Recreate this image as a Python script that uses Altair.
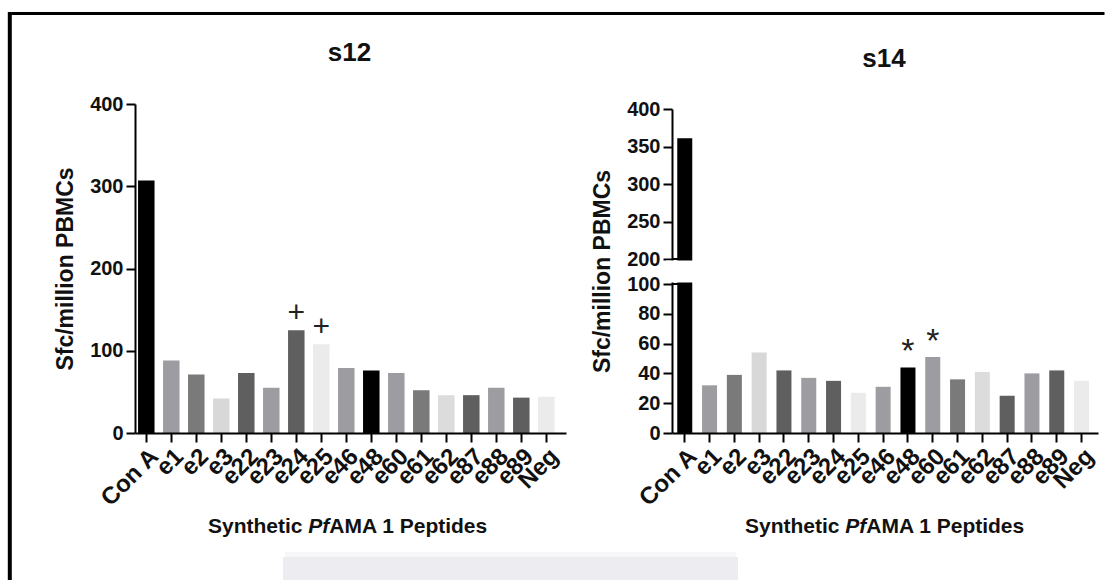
import altair as alt
import pandas as pd

# ---------------- data ----------------
categories = ["Con A", "e1", "e2", "e3", "e22", "e23", "e24", "e25", "e46",
              "e48", "e60", "e61", "e62", "e87", "e88", "e89", "Neg"]
s12_values = [307, 88, 71, 42, 73, 55, 125, 108, 79, 76, 73, 52, 46, 46, 55, 43, 44]
s14_values = [361, 32, 39, 54, 42, 37, 35, 27, 31, 44, 51, 36, 41, 25, 40, 42, 35]
bar_colors = ["#000000", "#9d9da1", "#7a7a7a", "#d8d8d8", "#5f5f5f", "#9d9da1",
              "#5f5f5f", "#ebebeb", "#9d9da1", "#000000", "#9d9da1", "#7a7a7a",
              "#dcdcdc", "#5f5f5f", "#9d9da1", "#5f5f5f", "#ebebeb"]
s12_marked = ["e24", "e25"]
s12_symbol = "+"
s14_marked = ["e48", "e60"]
s14_symbol = "*"
panel_titles = ["s12", "s14"]
y_title = "Sfc/million PBMCs"
x_title_parts = ["Synthetic", "Pf", "AMA 1 Peptides"]
s12_ticks = [0, 100, 200, 300, 400]
s14_ticks = [0, 20, 40, 60, 80, 100, 200, 250, 300, 350, 400]
s14_domain = [0, 100, 200, 400]

FONT = "Liberation Sans, Arial, sans-serif"
INK = "#111111"
one = pd.DataFrame({"k": [0]})


def x_enc(p_in, p_out, align):
    return alt.X(
        "cat:N", sort=categories,
        scale=alt.Scale(paddingInner=p_in, paddingOuter=p_out, align=align),
        axis=alt.Axis(title=None, labelAngle=-45, labelFont=FONT, labelFontSize=24,
                      labelFontWeight="bold", labelColor=INK, labelPadding=2,
                      tickSize=9, tickWidth=2, tickColor="#000", domainColor="#000",
                      domainWidth=2, grid=False, zindex=1))


def y_enc(ticks, scale):
    return alt.Y(
        "val:Q", scale=scale,
        axis=alt.Axis(values=ticks, tickCount=40, title=y_title, titleFont=FONT,
                      titleFontSize=23, titleFontWeight="bold", titleColor=INK,
                      titlePadding=12, labelFont=FONT, labelFontSize=20,
                      labelFontWeight="bold", labelColor=INK, labelPadding=3,
                      labelFlush=False, labelOverlap=False, tickSize=9, tickWidth=2,
                      tickColor="#000", domainColor="#000", domainWidth=2,
                      grid=False, zindex=0))


def panel(values, title, marked, symbol, sym_size, sym_dy, ticks, yscale, width, xpad,
          title_y):
    df = pd.DataFrame({"cat": categories, "val": values})
    x = x_enc(*xpad)
    y = y_enc(ticks, yscale)
    color = alt.Color("cat:N", scale=alt.Scale(domain=categories, range=bar_colors),
                      legend=None)
    bars = alt.Chart(df).mark_bar().encode(x=x, y=y, color=color)

    mk = df[df["cat"].isin(marked)].assign(sym=symbol)
    marks = alt.Chart(mk).mark_text(font=FONT, fontSize=sym_size, color="#222",
                                    baseline="alphabetic", dy=sym_dy).encode(
        x=alt.X("cat:N", sort=categories), y=alt.Y("val:Q"), text="sym:N")

    ttl = alt.Chart(pd.DataFrame({"t": [title]})).mark_text(
        font=FONT, fontSize=26, fontWeight="bold", color=INK, align="center",
        baseline="alphabetic").encode(text="t:N", x=alt.value(width / 2 - 1),
                                      y=alt.value(title_y))

    p = 173.3
    xt1 = alt.Chart(pd.DataFrame({"t": [x_title_parts[0]]})).mark_text(
        font=FONT, fontSize=21, fontWeight="bold", color=INK, align="right",
        baseline="alphabetic").encode(text="t:N", x=alt.value(p - 5.8), y=alt.value(429))
    xt2 = alt.Chart(pd.DataFrame({"t": [x_title_parts[1]]})).mark_text(
        font=FONT, fontSize=21, fontWeight="bold", fontStyle="italic", color=INK,
        align="left", baseline="alphabetic").encode(text="t:N", x=alt.value(p),
                                                    y=alt.value(429))
    xt3 = alt.Chart(pd.DataFrame({"t": [x_title_parts[2]]})).mark_text(
        font=FONT, fontSize=21, fontWeight="bold", color=INK, align="left",
        baseline="alphabetic").encode(text="t:N", x=alt.value(p + 21), y=alt.value(429))
    return [bars, marks, ttl, xt1, xt2, xt3]


# ---------------- left panel (s12) ----------------
left_layers = panel(s12_values, panel_titles[0], s12_marked, s12_symbol, 30, -8,
                    s12_ticks, alt.Scale(domain=[0, 400], zero=False, nice=False),
                    431, (0.34, 0.29, 0.21), -43)

# page decorations (frame of the original figure and faint box at bottom)
gray_box = alt.Chart(one).mark_rect(color="#ececf1").encode(
    x=alt.value(148), x2=alt.value(603), y=alt.value(453), y2=alt.value(478))
gray_band = alt.Chart(one).mark_rect(color="#f7f7f9").encode(
    x=alt.value(150), x2=alt.value(601), y=alt.value(448), y2=alt.value(453))
top_border = alt.Chart(one).mark_rule(color="#000", strokeWidth=3).encode(
    x=alt.value(-125.2), x2=alt.value(969.5), y=alt.value(-90.5))
left_border = alt.Chart(one).mark_rule(color="#000", strokeWidth=4).encode(
    x=alt.value(-125.2), y=alt.value(-92), y2=alt.value(476))

left = alt.layer(gray_band, gray_box, *left_layers, top_border, left_border).properties(
    width=431, height=329)

# ---------------- right panel (s14, broken axis) ----------------
right_scale = alt.Scale(domain=s14_domain, range=[329, 180, 155, 5], zero=False,
                        nice=False)
right_layers = panel(s14_values, panel_titles[1], s14_marked, s14_symbol, 34, -5,
                     s14_ticks, right_scale, 426, (0.395, 0.286, 0.37), -37)

gap_mask = alt.Chart(one).mark_rect(color="white").encode(
    x=alt.value(-6), x2=alt.value(45), y=alt.datum(106), y2=alt.datum(194))
stub_200 = alt.Chart(one).mark_rule(color="#000", strokeWidth=2).encode(
    x=alt.value(0), x2=alt.value(6), y=alt.datum(200))
stub_100 = alt.Chart(one).mark_rule(color="#000", strokeWidth=2).encode(
    x=alt.value(0), x2=alt.value(6), y=alt.datum(100))

right = alt.layer(*right_layers, gap_mask, stub_200, stub_100).properties(
    width=426, height=329)

chart = alt.hconcat(left, right, spacing=106, bounds="flush").resolve_scale(
    x="independent", y="independent", color="independent"
).properties(
    padding={"left": 7, "top": 10, "right": 0, "bottom": 0},
    background="white",
).configure_view(stroke=None)

chart.save("out.html", embed_options={"renderer": "svg", "actions": False})
